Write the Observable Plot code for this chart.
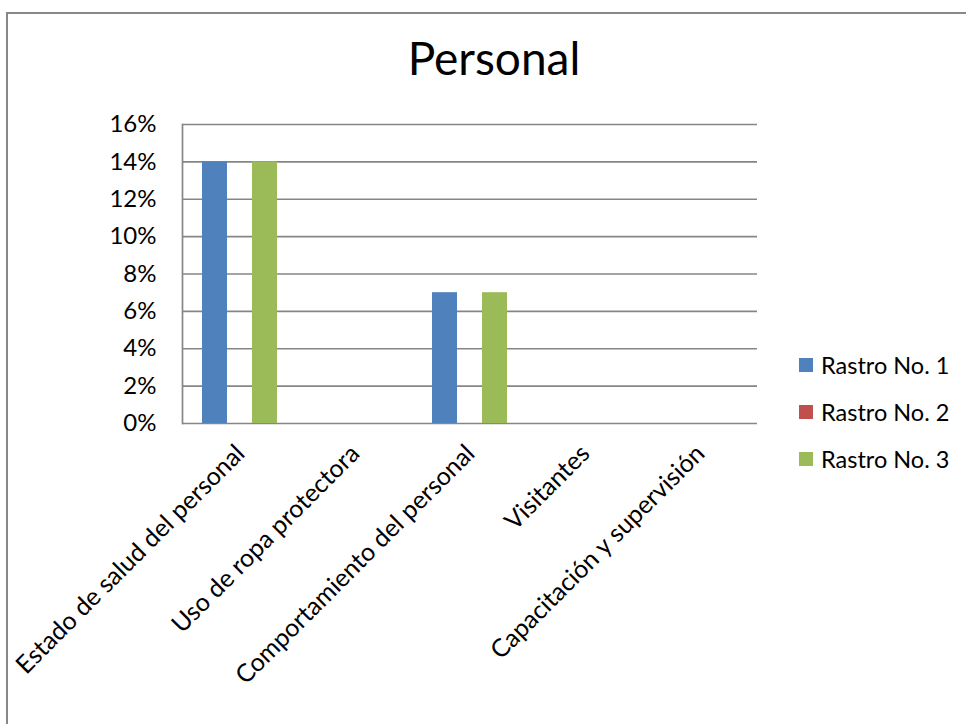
<!DOCTYPE html>
<html>
<head>
<meta charset="utf-8">
<script src="https://cdn.jsdelivr.net/npm/d3@7"></script>
<script src="https://cdn.jsdelivr.net/npm/@observablehq/plot@0.6"></script>
<style>
  html, body { margin: 0; padding: 0; background: #fff; overflow: hidden; }
  body { width: 966px; height: 724px; position: relative; font-family: Lato, "Open Sans", sans-serif; }
  #frame { position: absolute; left: 6px; top: 12px; width: 1000px; height: 800px; border: 2px solid #888; box-sizing: border-box; }
  #title { position: absolute; left: 0; width: 988px; top: 30px; text-align: center; font-size: 46px; color: #000; }
  .layer { position: absolute; left: 0; top: 100px; }
  #legend { position: absolute; left: 799px; top: 341px; }
  .item { display: flex; align-items: center; height: 47px; font-size: 23.5px; color: #000; }
  .sw { width: 14px; height: 14px; margin-right: 8px; }
</style>
</head>
<body>
<div id="frame"></div>
<div id="title">Personal</div>
<div id="base" class="layer"></div>
<div id="bars" class="layer"></div>
<div id="legend"></div>
<script>
const categories = ["Estado de salud del personal", "Uso de ropa protectora", "Comportamiento del personal", "Visitantes", "Capacitación y supervisión"];
const series = ["Rastro No. 1", "Rastro No. 2", "Rastro No. 3"];
const rastro1 = [0.14, 0, 0.07, 0, 0];
const rastro2 = [0, 0, 0, 0, 0];
const rastro3 = [0.14, 0, 0.07, 0, 0];
const yTicks = [0, 0.02, 0.04, 0.06, 0.08, 0.10, 0.12, 0.14, 0.16];
const colors = ["#4F81BD", "#C0504D", "#9BBB59"];

const values = [rastro1, rastro2, rastro3];
const data = [];
categories.forEach((c, i) => series.forEach((s, j) => data.push({category: c, series: s, value: values[j][i]})));

const common = {
  width: 966,
  height: 620,
  marginTop: 24,
  marginLeft: 182,
  marginRight: 209,
  marginBottom: 297,
  style: {fontFamily: "Lato, 'Open Sans', sans-serif", fontSize: "20px", color: "#000", background: "transparent", overflow: "visible"},
  y: {domain: [0, 0.16], axis: null}
};
const bandPad = {paddingInner: 0.348, paddingOuter: 0.174};

// Base layer: grid, axis lines and tick labels
const base = Plot.plot({
  ...common,
  x: {domain: categories, ...bandPad, axis: null},
  marks: [
    Plot.ruleY(yTicks, {stroke: "#868686", strokeWidth: 1.7, strokeOpacity: 1}),
    Plot.frame({anchor: "left", stroke: "#868686", strokeWidth: 1.7, strokeOpacity: 1}),
    Plot.axisY({ticks: yTicks, tickFormat: d3.format(".0%"), tickSize: 0, tickPadding: 26, fontSize: 24, label: null}),
    Plot.axisX({anchor: "bottom", tickRotate: -45, tickSize: 0, tickPadding: 22, dx: 0, dy: 4, fontSize: 25, label: null})
  ]
});
document.getElementById("base").appendChild(base);

// Bars layer: grouped bars via facets
const bars = Plot.plot({
  ...common,
  fx: {domain: categories, ...bandPad, axis: null, label: null},
  x: {domain: series, padding: 0, axis: null},
  color: {domain: series, range: colors},
  marks: [
    Plot.barY(data, {fx: "category", x: "series", y: "value", fill: "series"})
  ]
});
document.getElementById("bars").appendChild(bars);

const legend = document.getElementById("legend");
series.forEach((s, i) => {
  const item = document.createElement("div");
  item.className = "item";
  const sw = document.createElement("div");
  sw.className = "sw";
  sw.style.background = colors[i];
  const t = document.createElement("span");
  t.textContent = s;
  item.appendChild(sw);
  item.appendChild(t);
  legend.appendChild(item);
});
</script>
</body>
</html>
